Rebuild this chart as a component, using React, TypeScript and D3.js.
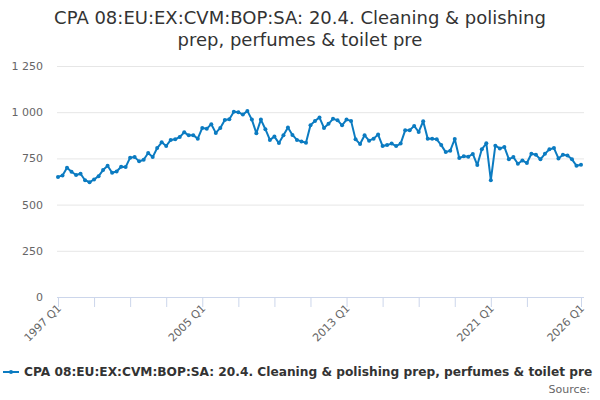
import React from 'react';
import * as d3 from 'd3';

const title = ['CPA 08:EU:EX:CVM:BOP:SA: 20.4. Cleaning & polishing', 'prep, perfumes & toilet pre'];
const seriesName = 'CPA 08:EU:EX:CVM:BOP:SA: 20.4. Cleaning & polishing prep, perfumes & toilet pre';

// quarterly values, 1997 Q1 .. 2026 Q1
const values: number[] = [
  650, 658, 700, 678, 660, 667, 632, 621, 636, 654,
  687, 710, 672, 679, 705, 703, 754, 757, 734, 743,
  779, 757, 806, 837, 817, 850, 853, 866, 891, 875,
  875, 857, 915, 911, 935, 888, 915, 958, 962, 1002,
  1000, 987, 1007, 960, 886, 960, 908, 850, 868, 833,
  875, 917, 877, 850, 842, 835, 929, 953, 971, 915,
  937, 964, 957, 929, 960, 953, 853, 828, 875, 846,
  857, 879, 817, 822, 830, 817, 830, 902, 902, 926,
  893, 951, 857, 857, 853, 822, 784, 792, 855, 752,
  761, 759, 774, 714, 799, 832, 632, 819, 804, 812,
  746, 757, 721, 739, 725, 775, 770, 745, 775, 799,
  806, 750, 770, 766, 745, 710, 716,
];

const startYear = 1997;
const categories = values.map((_, i) => `${startYear + Math.floor(i / 4)} Q${(i % 4) + 1}`);

const yTicks = [0, 250, 500, 750, 1000, 1250];
const xTickIdx = [0, 8, 16, 24, 32, 40, 48, 56, 64, 72, 80, 88, 96, 104, 116];
const xLabelIdx = [0, 32, 64, 96, 116];

const W = 600;
const H = 400;
const left = 58;
const right = 581;
const top = 66;
const bottom = 297;
const blue = '#0b7bc1';
const font = 'DejaVu Sans, sans-serif';

const fmt = (v: number) => (v >= 1000 ? `${Math.floor(v / 1000)} ${String(v % 1000).padStart(3, '0')}` : String(v));

export default function App() {
  const x = d3.scaleLinear().domain([0, values.length - 1]).range([left, right]);
  const y = d3.scaleLinear().domain([0, 1250]).range([bottom, top]);

  const line = d3.line<number>()
    .x((_, i) => x(i))
    .y((d) => y(d));

  return (
    <div style={{ position: 'absolute', left: 0, top: 0 }}>
      <svg width={W} height={H} style={{ fontFamily: font, display: 'block' }}>
        <rect width={W} height={H} fill="#fff" />
        {title.map((t, i) => (
          <text key={i} x={W / 2} y={24 + i * 22} textAnchor="middle" fontSize={18} fill="#333">{t}</text>
        ))}

        {/* grid + y labels */}
        {yTicks.map((t) => (
          <g key={t}>
            {t > 0 && <line x1={left - 1} x2={584} y1={y(t) + 0.5} y2={y(t) + 0.5} stroke="#e6e6e6" />}
            <text x={43} y={y(t) + 4} textAnchor="end" fontSize={11} fill="#666">{fmt(t)}</text>
          </g>
        ))}

        {/* x axis */}
        <line x1={left - 1} x2={584} y1={bottom + 0.5} y2={bottom + 0.5} stroke="#ccd6eb" />
        {xTickIdx.map((i) => (
          <line key={i} x1={x(i) + 0.5} x2={x(i) + 0.5} y1={bottom} y2={bottom + 10} stroke="#ccd6eb" />
        ))}
        {xLabelIdx.map((i) => (
          <text key={i} transform={`translate(${x(i) + 4},${bottom + 12}) rotate(-45)`} textAnchor="end" fontSize={11} fill="#666">
            {categories[i]}
          </text>
        ))}

        {/* series */}
        <path d={line(values) ?? ''} fill="none" stroke={blue} strokeWidth={2} strokeLinejoin="round" />
        {values.map((v, i) => (
          <circle key={i} cx={x(i)} cy={y(v)} r={2} fill={blue} />
        ))}

        {/* legend */}
        <line x1={3} x2={19} y1={372} y2={372} stroke={blue} strokeWidth={2} />
        <circle cx={11} cy={372} r={2} fill={blue} />
        <text x={24} y={376} fontSize={12.2} fontWeight="bold" fill="#333">{seriesName}</text>
        <text x={590} y={393} textAnchor="end" fontSize={11} fill="#666">Source:</text>
      </svg>
    </div>
  );
}
